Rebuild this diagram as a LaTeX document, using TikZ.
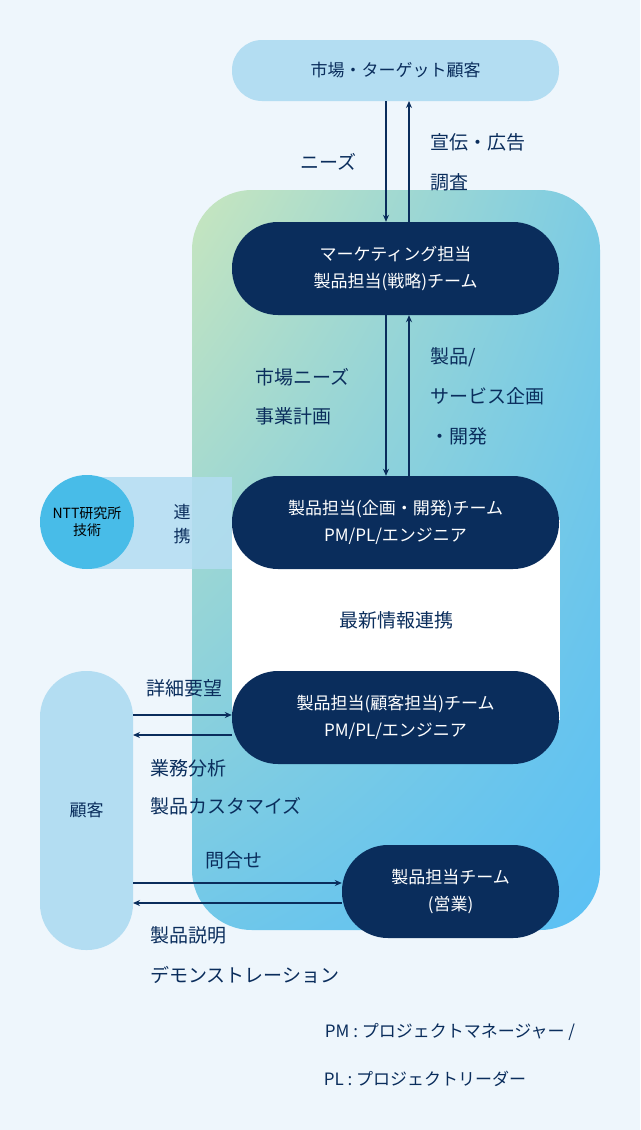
\documentclass[tikz,border=0pt]{standalone}
\usepackage{fontspec}
\setmainfont{Noto Sans CJK JP}
\usetikzlibrary{arrows.meta,shadings}
\definecolor{bg}{HTML}{EEF6FC}
\definecolor{navy}{HTML}{0A2D5C}
\definecolor{lb}{HTML}{B3DDF2}
\definecolor{gg}{HTML}{C8E6BE}
\definecolor{gb}{HTML}{5BC0F4}
\definecolor{ntt}{HTML}{48BCE8}
\tikzset{
 navypill/.style={fill=navy,text=white,rounded corners=46pt,font=\fontsize{17}{27}\selectfont,align=center},
 lbpill/.style={fill=lb,text=navy},
 lab/.style={text=navy,font=\fontsize{19}{22}\selectfont,anchor=west,inner sep=0},
 arr/.style={draw=navy,line width=1.2pt,-{Stealth[length=7pt,width=6pt]}}
}
\begin{document}
\begin{tikzpicture}[x=1pt,y=-1pt]
\fill[bg] (0,0) rectangle (640,1130);
\useasboundingbox (0,0) rectangle (640,1130);
\shade[upper left=gg,upper right=gb!70!gg,lower left=gb!80!gg,lower right=gb,rounded corners=60pt] (192,190) rectangle (600,930);
\fill[white] (232,520) rectangle (560,720);
\fill[lb,opacity=0.85] (87,477) rectangle (232,569);
\node[circle,fill=ntt,minimum size=94pt,inner sep=0,align=center,font=\fontsize{14}{17}\selectfont,text=black] (ntt) at (87,522) {NTT研究所\\技術};
\node[lab,anchor=center,align=center,font=\fontsize{17}{24}\selectfont] (renk) at (182,524) {連\\携};
% pills
\path[lbpill,rounded corners=30pt] (232,40) rectangle (559,101);
\node[text=navy,font=\fontsize{17}{20}\selectfont] (mkt) at (395.5,70.5) {市場・ターゲット顧客};
\path[lbpill,rounded corners=46pt] (40,671) rectangle (133,950);
\node[text=navy,font=\fontsize{17}{20}\selectfont] (cust) at (86.5,810) {顧客};
\node[navypill,minimum width=327pt,minimum height=93pt] (p1) at (395.5,268.5) {マーケティング担当\\製品担当(戦略)チーム};
\node[navypill,minimum width=327pt,minimum height=93pt] (p2) at (395.5,522.5) {製品担当(企画・開発)チーム\\PM/PL/エンジニア};
\node[navypill,minimum width=327pt,minimum height=93pt] (p3) at (395.5,717.5) {製品担当(顧客担当)チーム\\PM/PL/エンジニア};
\node[navypill,minimum width=217pt,minimum height=93pt] (p4) at (450.5,891.5) {製品担当チーム\\(営業)};
% arrows
\draw[arr] (386,101) -- (p1.north -| 386,0);
\draw[arr] (p1.north -| 409,0) -- (409,101);
\draw[arr] (p1.south -| 386,0) -- (p2.north -| 386,0);
\draw[arr] (p2.north -| 409,0) -- (p1.south -| 409,0);
\draw[arr] (133,715) -- (p3.west |- 0,715);
\draw[arr] (p3.west |- 0,735) -- (133,735);
\draw[arr] (133,883) -- (p4.west |- 0,883);
\draw[arr] (p4.west |- 0,903) -- (133,903);
% labels
\node[lab] (l1) at (300,162) {ニーズ};
\node[lab] (l2) at (430,142) {宣伝・広告};
\node[lab] (l3) at (430,182) {調査};
\node[lab] (l4) at (255,377) {市場ニーズ};
\node[lab] (l5) at (255,416) {事業計画};
\node[lab] (l6) at (430,357) {製品/};
\node[lab] (l7) at (430,396) {サービス企画};
\node[lab] (l8) at (430,436) {・開発};
\node[lab,anchor=center] (l9) at (396,620) {最新情報連携};
\node[lab,anchor=center] (l10) at (184,688) {詳細要望};
\node[lab] (l11) at (150,768) {業務分析};
\node[lab] (l12) at (150,806) {製品カスタマイズ};
\node[lab,anchor=center] (l13) at (234,860) {問合せ};
\node[lab] (l14) at (150,935) {製品説明};
\node[lab] (l15) at (150,975) {デモンストレーション};
\node[lab,anchor=center,font=\fontsize{17}{20}\selectfont] (f1) at (450,1032) {PM : プロジェクトマネージャー /};
\node[lab,anchor=center,font=\fontsize{17}{20}\selectfont] (f2) at (425,1079) {PL : プロジェクトリーダー};
\end{tikzpicture}
\end{document}
